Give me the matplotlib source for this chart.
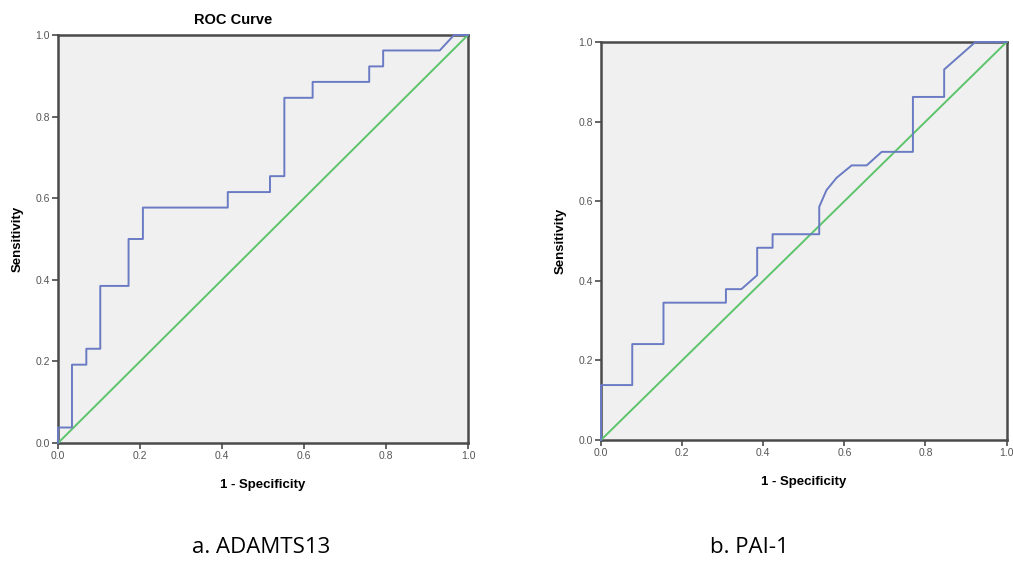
import matplotlib
matplotlib.use("Agg")
import matplotlib.pyplot as plt

# ROC curve a: ADAMTS13
adamts_fpr = [0.0, 0.0, 0.034, 0.034, 0.069, 0.069, 0.103, 0.103, 0.172, 0.172,
              0.207, 0.207, 0.414, 0.414, 0.517, 0.517, 0.552, 0.552, 0.621, 0.621,
              0.759, 0.759, 0.793, 0.793, 0.931, 0.966, 1.0]
adamts_tpr = [0.0, 0.038, 0.038, 0.192, 0.192, 0.231, 0.231, 0.385, 0.385, 0.5,
              0.5, 0.577, 0.577, 0.615, 0.615, 0.654, 0.654, 0.846, 0.846, 0.885,
              0.885, 0.923, 0.923, 0.962, 0.962, 1.0, 1.0]

# ROC curve b: PAI-1
pai_fpr = [0.0, 0.0, 0.077, 0.077, 0.154, 0.154, 0.308, 0.308, 0.346, 0.385,
           0.385, 0.423, 0.423, 0.538, 0.538, 0.556, 0.581, 0.618, 0.655, 0.692,
           0.769, 0.769, 0.846, 0.846, 0.923, 1.0]
pai_tpr = [0.0, 0.138, 0.138, 0.241, 0.241, 0.345, 0.345, 0.379, 0.379, 0.414,
           0.483, 0.483, 0.517, 0.517, 0.586, 0.628, 0.659, 0.690, 0.690, 0.724,
           0.724, 0.862, 0.862, 0.931, 1.0, 1.0]

ref_line = [0.0, 1.0]
ticks = [0.0, 0.2, 0.4, 0.6, 0.8, 1.0]
tick_labels = ["0.0", "0.2", "0.4", "0.6", "0.8", "1.0"]

blue = "#6a7bc4"
green = "#5cc46a"
frame = "#4a4a4a"

plt.rcParams["font.family"] = ["Liberation Sans", "DejaVu Sans"]

fig = plt.figure(figsize=(10.13, 5.64), dpi=100)
ax1 = fig.add_axes([0.0573, 0.2145, 0.4047, 0.7235])
ax2 = fig.add_axes([0.5933, 0.2199, 0.4004, 0.7056])


def style(ax):
    ax.set_facecolor("#f0f0f0")
    ax.set_xlim(0, 1)
    ax.set_ylim(0, 1)
    ax.set_xticks(ticks)
    ax.set_yticks(ticks)
    ax.set_xticklabels(tick_labels)
    ax.set_yticklabels(tick_labels)
    ax.tick_params(direction="out", length=4, width=1.2, color=frame,
                   labelsize=7.5, labelcolor="#555555", pad=2)
    for s in ax.spines.values():
        s.set_color(frame)
        s.set_linewidth(1.8)
    ax.set_xlabel("1 - Specificity", fontsize=9.5, fontweight="bold", labelpad=13)
    ax.set_ylabel("Sensitivity", fontsize=9.5, fontweight="bold", labelpad=8)


for ax, fx, ty in [(ax1, adamts_fpr, adamts_tpr), (ax2, pai_fpr, pai_tpr)]:
    style(ax)
    ax.plot(ref_line, ref_line, color=green, lw=1.4, clip_on=False, zorder=3)
    ax.plot(fx, ty, color=blue, lw=1.4, clip_on=False, zorder=4)

ax1.set_title("ROC Curve", fontsize=10.5, fontweight="bold", pad=8, x=0.427)

fig.text(0.258, 0.03, "a. ADAMTS13", fontsize=16, family="Open Sans",
         ha="center", va="center")
fig.text(0.740, 0.03, "b. PAI-1", fontsize=16, family="Open Sans",
         ha="center", va="center")

fig.savefig("out.png", dpi=100)
